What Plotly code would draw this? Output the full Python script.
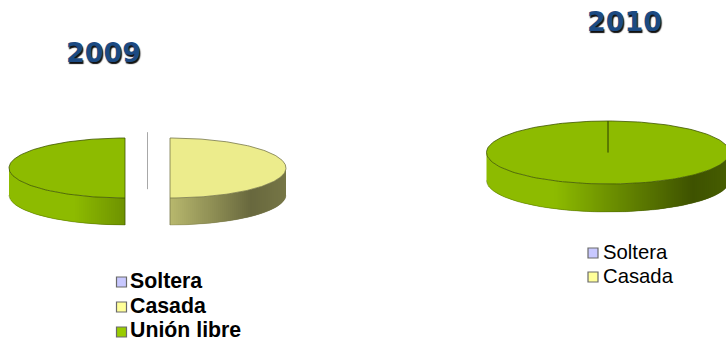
import numpy as np
import plotly.graph_objects as go

# Shares per marital status, one pie per year
categories = ["Soltera", "Casada", "Unión libre"]
values_2009 = [0, 50, 50]
values_2010 = [0, 0, 100]
legend_2009 = ["Soltera", "Casada", "Unión libre"]
legend_2010 = ["Soltera", "Casada"]
years = ["2009", "2010"]

top_colors = {"Soltera": "#c8c8ff", "Casada": "#ecec8c", "Unión libre": "#8dbb00"}
swatch_colors = {"Soltera": "#c8c8ff", "Casada": "#ffff99", "Unión libre": "#99cc00"}
edge_colors = {"Soltera": "#a8a8a8", "Casada": "#77774a", "Unión libre": "#3f5500"}

# Horizontal light falloff on the pie wall: (position across pie, brightness)
SHADE_POS = [0.0, 0.28, 0.5, 0.85, 1.0]
SHADE_VAL = [1.0, 1.0, 0.78, 0.44, 0.5]

fig = go.Figure()


def rgb(color, k=1.0):
    r, g, b = (int(color[i:i + 2], 16) for i in (1, 3, 5))
    return f"rgb({r * k:.0f},{g * k:.0f},{b * k:.0f})"


def poly(x, y, fill, line, width=1.0):
    fig.add_trace(go.Scatter(
        x=x, y=y, mode="lines", fill="toself", fillcolor=fill,
        line=dict(color=line, width=width), hoverinfo="skip", showlegend=False,
    ))


def pie3d(values, cx, cy, rx, ry, depth, explode):
    """Tilted pie: angles run clockwise from twelve o'clock."""
    total = sum(values)
    start = 0.0
    for name, value in zip(categories, values):
        sweep = 2 * np.pi * value / total
        mid = start + sweep / 2
        ox = cx + explode * np.sin(mid)
        oy = cy - explode * np.cos(mid) * ry / rx

        if value == 0:
            # An empty share only leaves its radial edge
            y_end = oy + (depth if explode else 0)
            fig.add_trace(go.Scatter(
                x=[ox, ox], y=[oy - ry, y_end], mode="lines",
                line=dict(color=edge_colors[name], width=1),
                hoverinfo="skip", showlegend=False,
            ))
            continue

        theta = np.linspace(start, start + sweep, 181)
        ex = ox + rx * np.sin(theta)
        ey = oy - ry * np.cos(theta)

        # Wall: strips of even screen width, painted so each one overlaps the last
        front = theta[(np.cos(theta) <= 0)]
        if len(front):
            sin_lo, sin_hi = np.sin(front).min(), np.sin(front).max()
            cuts = np.arange(sin_lo, sin_hi + 1e-9, 2.0 / rx)
            rim = front[np.argsort(np.sin(front))]
            rim_sin = np.sin(rim)
            rim_cos = np.cos(rim)
            # Fine sampling of the rim so that its curve stays smooth under each strip
            for lo in cuts:
                hi = min(lo + 4.0 / rx, sin_hi)
                s = np.linspace(lo, hi, 6)
                c = np.interp(s, rim_sin, rim_cos)
                t = (lo + 1.0 / rx + 1) / 2
                shade = rgb(top_colors[name], float(np.interp(t, SHADE_POS, SHADE_VAL)))
                xs = ox + rx * s
                ys = oy - ry * c
                fig.add_trace(go.Scatter(
                    x=np.r_[xs, xs[::-1], xs[0]],
                    y=np.r_[ys, ys[::-1] + depth, ys[0]],
                    mode="lines", fill="toself", fillcolor=shade,
                    line=dict(width=0), hoverinfo="skip", showlegend=False,
                ))
            fig.add_trace(go.Scatter(
                x=ox + rx * np.sin(front), y=oy - ry * np.cos(front) + depth,
                mode="lines", line=dict(color=edge_colors[name], width=0.6),
                opacity=0.6, hoverinfo="skip", showlegend=False,
            ))

        # Top face
        poly(np.r_[ox, ex, ox], np.r_[oy, ey, oy],
             top_colors[name], edge_colors[name], 0.8)

        # Side walls of an exploded slice seen edge-on
        if explode:
            for a in (start, start + sweep):
                if np.cos(a) < -0.99:
                    wx = ox + rx * np.sin(a)
                    wy = oy - ry * np.cos(a)
                    fig.add_trace(go.Scatter(
                        x=[wx, wx], y=[wy, wy + depth], mode="lines",
                        line=dict(color=edge_colors[name], width=0.8),
                        hoverinfo="skip", showlegend=False,
                    ))
        start += sweep


def legend(names, x_mark, x_text, y_mark, y_text, size, bold):
    fig.add_trace(go.Scatter(
        x=[x_mark] * len(names), y=y_mark, mode="markers",
        marker=dict(symbol="square", size=10,
                    color=[swatch_colors[n] for n in names],
                    line=dict(color="#6a6a6a", width=1.2)),
        hoverinfo="skip", showlegend=False,
    ))
    fig.add_trace(go.Scatter(
        x=[x_text] * len(names), y=y_text, mode="text", text=names,
        textposition="middle right",
        textfont=dict(family="Liberation Sans", size=size, color="#000000",
                      weight="bold" if bold else "normal"),
        hoverinfo="skip", showlegend=False,
    ))


pie3d(values_2009, 147.5, 168, 116, 30, 27, 22.5)
pie3d(values_2010, 608, 152.5, 121.5, 31.5, 28, 0)
legend(legend_2009, 121.5, 130, [282, 307, 332], [283, 308, 331.5], 21.3, True)
legend(legend_2010, 593, 603, [253, 277], [254, 278], 20.3, False)

for year, x, y in zip(years, [103, 624], [52, 21]):
    fig.add_annotation(
        x=x, y=y, text=f"<b>{year}</b>", showarrow=False,
        font=dict(family="DejaVu Sans", size=27, color="#1c4a82",
                  shadow="1px 2px 1px #111111"),
    )

fig.update_xaxes(range=[0, 726], visible=False)
fig.update_yaxes(range=[341, 0], visible=False)
fig.update_layout(
    width=726, height=341, autosize=False,
    margin=dict(l=0, r=0, t=0, b=0),
    paper_bgcolor="#ffffff", plot_bgcolor="#ffffff",
)
fig.write_html("out.html", config={"displayModeBar": False})
